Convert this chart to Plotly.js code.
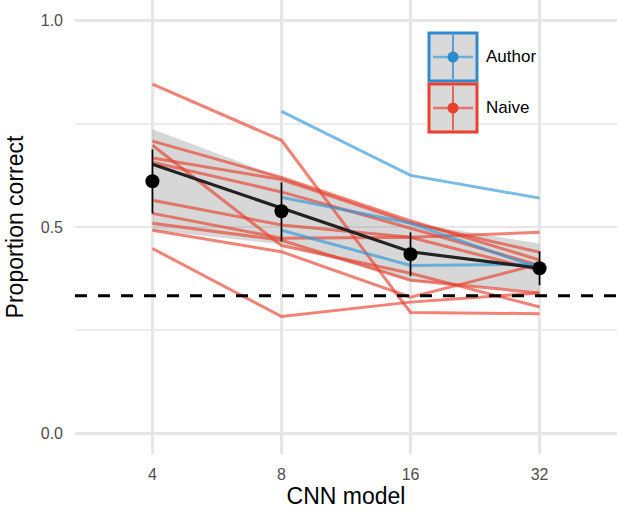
<!DOCTYPE html>
<html>
<head>
<meta charset="utf-8">
<script src="https://cdn.plot.ly/plotly-3.0.1.min.js"></script>
<style>html,body{margin:0;padding:0;background:#fff;}#chart{width:617px;height:518px;}</style>
</head>
<body>
<div id="chart"></div>
<script>
// ---- data ----
const categories = ['4', '8', '16', '32'];
const meanProp = [0.611, 0.538, 0.434, 0.400];
const meanLow  = [0.533, 0.465, 0.381, 0.359];
const meanHigh = [0.688, 0.608, 0.487, 0.441];
const fitLine  = [0.652, 0.545, 0.440, 0.400];
const fitLow   = [0.492, 0.458, 0.370, 0.342];
const fitHigh  = [0.737, 0.620, 0.510, 0.460];
const chance = 1 / 3;
const authorSeries = [
  [null, 0.780, 0.625, 0.570],
  [null, 0.572, 0.509, 0.400],
  [null, 0.492, 0.407, 0.410]
];
const naiveSeries = [
  [0.846, 0.710, 0.293, 0.290],
  [0.708, 0.620, 0.515, 0.420],
  [0.698, 0.455, 0.388, 0.306],
  [0.667, 0.615, 0.510, 0.439],
  [0.657, 0.585, 0.497, 0.407],
  [0.565, 0.505, 0.475, 0.487],
  [0.533, 0.473, 0.475, 0.395],
  [0.509, 0.468, 0.371, 0.340],
  [0.492, 0.440, 0.330, 0.410],
  [0.448, 0.283, 0.318, 0.340]
];
const groupNames = ['Author', 'Naive'];
const xTitle = 'CNN model';
const yTitle = 'Proportion correct';

// ---- styling ----
const authorColor = '#2E8BD0';
const naiveColor = '#E8412F';
const authorLine = 'rgba(46,152,215,0.65)';
const naiveLine = 'rgba(232,65,47,0.66)';
const ribbonFill = 'rgba(150,150,150,0.38)';
const FONT = 'Liberation Sans, Arial, sans-serif';
const W = 617, H = 518, ML = 75, MB = 64, MT = 0, MR = 0;
const PW = W - ML - MR, PH = H - MT - MB;
const px = x => (x - ML) / PW;
const py = y => (PH + MT - y) / PH;

const traces = [];
traces.push({x: categories, y: fitHigh, mode: 'lines', line: {width: 0, color: 'rgba(0,0,0,0)'}, hoverinfo: 'skip', showlegend: false});
traces.push({x: categories, y: fitLow, mode: 'lines', fill: 'tonexty', fillcolor: ribbonFill, line: {width: 0, color: 'rgba(0,0,0,0)'}, hoverinfo: 'skip', showlegend: false});
naiveSeries.forEach(s => traces.push({x: categories, y: s, mode: 'lines', line: {color: naiveLine, width: 3}, showlegend: false}));
authorSeries.forEach(s => traces.push({x: categories, y: s, mode: 'lines', line: {color: authorLine, width: 3}, showlegend: false}));
traces.push({x: categories, y: fitLine, mode: 'lines', line: {color: '#222222', width: 3.2}, showlegend: false});
traces.push({
  x: categories, y: meanProp, mode: 'markers',
  marker: {color: '#000000', size: 14},
  error_y: {type: 'data', symmetric: false,
    array: meanHigh.map((h, i) => h - meanProp[i]),
    arrayminus: meanProp.map((m, i) => m - meanLow[i]),
    color: '#000000', thickness: 1.7, width: 0},
  showlegend: false
});

const shapes = [
  {type: 'line', xref: 'paper', yref: 'y', x0: 0, x1: 1, y0: chance, y1: chance,
   line: {color: '#000000', width: 3, dash: '12px,11px'}}
];
const annotations = [];
// manual legend keys
const keys = [
  {top: 33, color: authorColor, line: authorLine, name: groupNames[0]},
  {top: 84, color: naiveColor, line: naiveLine, name: groupNames[1]}
];
const kx0 = 429, kx1 = 477, kh = 48;
keys.forEach(k => {
  const cx = (kx0 + kx1) / 2, cy = k.top + kh / 2;
  shapes.push({type: 'rect', xref: 'paper', yref: 'paper', x0: px(kx0), x1: px(kx1), y0: py(k.top + kh), y1: py(k.top),
    fillcolor: '#d9d9d9', line: {color: k.color, width: 3}});
  shapes.push({type: 'line', xref: 'paper', yref: 'paper', x0: px(kx0 + 4), x1: px(kx1 - 4), y0: py(cy), y1: py(cy),
    line: {color: k.line, width: 2.5}});
  shapes.push({type: 'line', xref: 'paper', yref: 'paper', x0: px(cx), x1: px(cx), y0: py(k.top + kh - 2), y1: py(k.top + 2),
    line: {color: k.color, width: 1.5}});
  shapes.push({type: 'circle', xref: 'paper', yref: 'paper', xsizemode: 'pixel', ysizemode: 'pixel',
    xanchor: px(cx), yanchor: py(cy), x0: -5.5, x1: 5.5, y0: -5.5, y1: 5.5,
    fillcolor: k.color, line: {color: k.color, width: 0}});
  annotations.push({xref: 'paper', yref: 'paper', x: px(484), y: py(cy), xanchor: 'left', yanchor: 'middle',
    text: k.name, showarrow: false, font: {size: 17, color: '#000000', family: FONT}});
});

const layout = {
  width: W, height: H,
  margin: {l: ML, r: MR, t: MT, b: MB, pad: 0},
  paper_bgcolor: '#ffffff', plot_bgcolor: '#ffffff',
  font: {family: FONT},
  showlegend: false,
  xaxis: {
    type: 'category', categoryorder: 'array', categoryarray: categories,
    range: [-0.6, 3.6], showgrid: true, gridcolor: '#e6e6e6', gridwidth: 2.8,
    zeroline: false, showline: false, ticks: '', ticklabelstandoff: 9,
    tickfont: {size: 16, color: '#4d4d4d'},
    title: {text: xTitle, font: {size: 23, color: '#000000'}, standoff: 4},
    fixedrange: true
  },
  yaxis: {
    range: [-0.05, 1.05], tickvals: [0, 0.5, 1], tickformat: '.1f',
    showgrid: true, gridcolor: '#e6e6e6', gridwidth: 2.8,
    minor: {tickvals: [0.25, 0.75], showgrid: true, gridcolor: '#ececec', gridwidth: 1.5},
    zeroline: false, showline: false, ticks: '', ticklabelstandoff: 11,
    tickfont: {size: 16, color: '#4d4d4d'},
    title: {text: yTitle, font: {size: 23, color: '#000000'}, standoff: 10},
    fixedrange: true
  },
  shapes: shapes,
  annotations: annotations
};

Plotly.newPlot('chart', traces, layout, {displayModeBar: false, staticPlot: true});
</script>
</body>
</html>
